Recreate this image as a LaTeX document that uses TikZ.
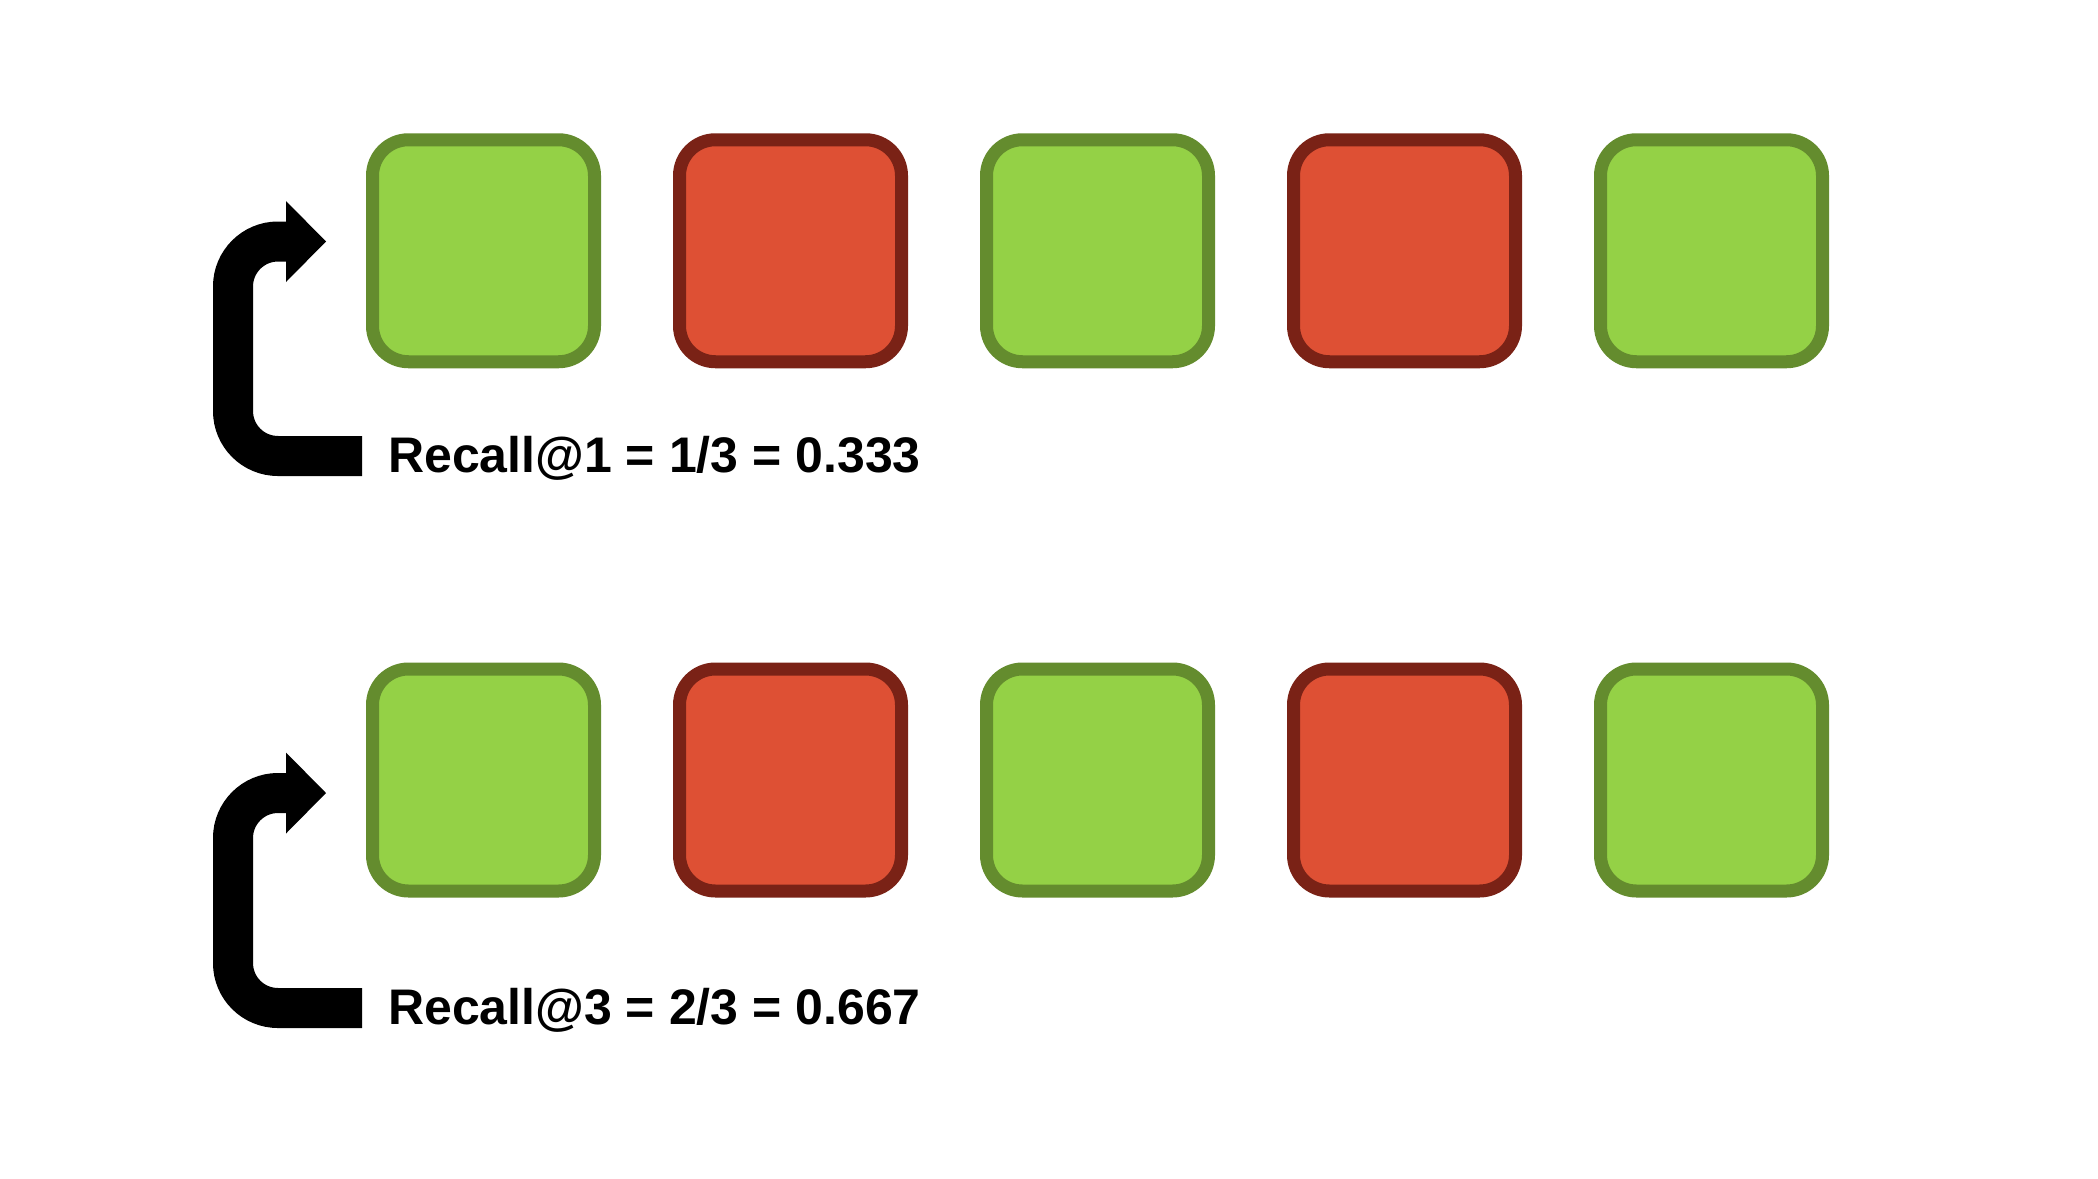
\documentclass[tikz,border=0pt]{standalone}
\usepackage{fontspec}
\setmainfont{Liberation Sans}
\definecolor{gfill}{HTML}{94D146}
\definecolor{gline}{HTML}{648C2E}
\definecolor{rfill}{HTML}{DE5034}
\definecolor{rline}{HTML}{7A2216}
\tikzset{
  card/.style={rectangle, minimum size=222pt, inner sep=0pt, line width=13pt, rounded corners=36pt},
  good/.style={card, draw=gline, fill=gfill},
  bad/.style={card, draw=rline, fill=rfill},
  recalltext/.style={anchor=base west, inner sep=0pt, font=\fontsize{50}{56}\selectfont\bfseries},
  elbowline/.style={line width=40pt, rounded corners=45pt, draw=black}
}
\begin{document}
\begin{tikzpicture}[x=1pt,y=-1pt]
\useasboundingbox (0,0) rectangle (2098,1178);
\fill[white] (0,0) rectangle (2098,1178);
% top row
\node[good] (a1) at (483.5,250.75) {};
\node[bad]  (a2) at (790.5,250.75) {};
\node[good] (a3) at (1097.5,250.75) {};
\node[bad]  (a4) at (1404.5,250.75) {};
\node[good] (a5) at (1711.5,250.75) {};
% bottom row
\node[good] (b1) at (483.5,780) {};
\node[bad]  (b2) at (790.5,780) {};
\node[good] (b3) at (1097.5,780) {};
\node[bad]  (b4) at (1404.5,780) {};
\node[good] (b5) at (1711.5,780) {};
% labels
\node[recalltext] (t1) at (388,472.5) {Recall@1 = 1/3 = 0.333};
\node[recalltext] (t2) at (388,1024.5) {Recall@3 = 2/3 = 0.667};
% arrows
\coordinate (s1) at (362,456);
\coordinate (h1) at (287,241.5);
\draw[elbowline] (s1) -- (233,456) -- (233,241.5) -- (h1);
\fill (286,201) -- (326,241.5) -- (286,282) -- cycle;
\coordinate (s2) at (362,1008);
\coordinate (h2) at (287,793);
\draw[elbowline] (s2) -- (233,1008) -- (233,793) -- (h2);
\fill (286,752.5) -- (326,793) -- (286,833.5) -- cycle;
\end{tikzpicture}
\end{document}
